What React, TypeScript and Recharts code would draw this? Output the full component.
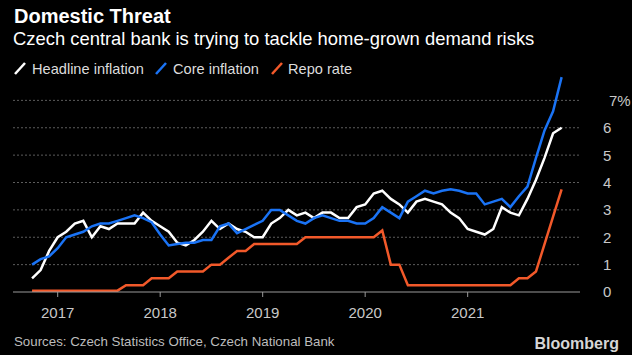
import { CartesianGrid, Line, LineChart, XAxis, YAxis } from "recharts";

// month-end observations, Sep 2016 .. Nov 2021
const startYear = 2016;
const startMonth = 9;

const headline = [
  0.5, 0.8, 1.5, 2.0,
  2.2, 2.5, 2.6, 2.0, 2.4, 2.3, 2.5, 2.5, 2.5, 2.9, 2.6, 2.4,
  2.2, 1.8, 1.7, 1.9, 2.2, 2.6, 2.3, 2.5, 2.3, 2.2, 2.0, 2.0,
  2.5, 2.7, 3.0, 2.8, 2.9, 2.7, 2.9, 2.9, 2.7, 2.7, 3.1, 3.2,
  3.6, 3.7, 3.4, 3.2, 2.9, 3.3, 3.4, 3.3, 3.2, 2.9, 2.7, 2.3,
  2.2, 2.1, 2.3, 3.1, 2.9, 2.8, 3.4, 4.1, 4.9, 5.8, 6.0,
];

const core = [
  1.0, 1.2, 1.3, 1.6,
  2.0, 2.1, 2.2, 2.4, 2.5, 2.5, 2.6, 2.7, 2.8, 2.7, 2.55, 2.1,
  1.7, 1.75, 1.8, 1.8, 1.9, 1.9, 2.4, 2.5, 2.15, 2.3, 2.45, 2.6,
  3.0, 3.0, 2.8, 2.6, 2.5, 2.7, 2.8, 2.7, 2.6, 2.6, 2.5, 2.5,
  2.7, 3.1, 2.9, 2.7, 3.3, 3.5, 3.7, 3.6, 3.7, 3.75, 3.7, 3.6,
  3.6, 3.2, 3.3, 3.4, 3.1, 3.5, 3.85, 4.9, 5.9, 6.6, 7.85,
];

const repo = [
  0.05, 0.05, 0.05, 0.05,
  0.05, 0.05, 0.05, 0.05, 0.05, 0.05, 0.05, 0.25, 0.25, 0.25, 0.5, 0.5,
  0.5, 0.75, 0.75, 0.75, 0.75, 1.0, 1.0, 1.25, 1.5, 1.5, 1.75, 1.75,
  1.75, 1.75, 1.75, 1.75, 2.0, 2.0, 2.0, 2.0, 2.0, 2.0, 2.0, 2.0,
  2.0, 2.25, 1.0, 1.0, 0.25, 0.25, 0.25, 0.25, 0.25, 0.25, 0.25, 0.25,
  0.25, 0.25, 0.25, 0.25, 0.25, 0.5, 0.5, 0.75, 1.75, 2.75, 3.75,
];

const yearTicks = [2017, 2018, 2019, 2020, 2021];
const valueTicks = [0, 1, 2, 3, 4, 5, 6, 7];

const WHITE = "#ffffff";
const BLUE = "#1a73f5";
const ORANGE = "#f2592a";
const FONT = "'Liberation Sans', Arial, sans-serif";

const rows = headline.map((h, i) => ({
  t: startYear + (startMonth + i) / 12,
  headline: h,
  core: core[i],
  repo: repo[i],
}));

function ValueTick(props: any) {
  const { x, y, payload } = props;
  const top = payload.value === 7;
  return (
    <text x={top ? x + 21 : x + 15} y={y} dy="0.36em" fill="#c8c8c8" fontSize={15} fontFamily={FONT}>
      {payload.value}
      {top ? "%" : ""}
    </text>
  );
}

export default function App() {
  return (
    <div style={{ position: "fixed", left: 0, top: 0, width: 632, height: 355, background: "#000" }}>
      <LineChart width={632} height={355} data={rows} margin={{ top: 73, right: 0, bottom: 33, left: 13 }}>
        <CartesianGrid stroke="#5c5c5c" strokeDasharray="2 2" vertical={false} horizontalValues={[1, 2, 3, 4, 5, 6, 7]} />
        <XAxis
          dataKey="t"
          type="number"
          domain={[2016.564, 2022.096]}
          ticks={yearTicks}
          allowDataOverflow
          stroke="#9a9a9a"
          tickSize={5}
          tickMargin={10}
          height={30}
          tick={{ fill: "#c8c8c8", fontSize: 15, fontFamily: FONT }}
        />
        <YAxis
          orientation="right"
          domain={[0, 8]}
          ticks={valueTicks}
          width={52}
          axisLine={false}
          tickLine={false}
          tick={<ValueTick />}
        />
        <Line dataKey="repo" stroke={ORANGE} strokeWidth={2.5} dot={false} isAnimationActive={false} />
        <Line dataKey="headline" stroke={WHITE} strokeWidth={2.5} dot={false} isAnimationActive={false} />
        <Line dataKey="core" stroke={BLUE} strokeWidth={2.5} dot={false} isAnimationActive={false} />
      </LineChart>
      <svg width={632} height={355} style={{ position: "absolute", left: 0, top: 0, pointerEvents: "none" }}>
        <text x={14} y={23} fill="#fff" fontSize={20} fontWeight="bold" fontFamily={FONT}>
          Domestic Threat
        </text>
        <text x={13} y={45} fill="#fff" fontSize={18.4} fontFamily={FONT}>
          Czech central bank is trying to tackle home-grown demand risks
        </text>
        <line x1={15} y1={74} x2={25} y2={63} stroke={WHITE} strokeWidth={2.5} />
        <text x={32} y={74} fill="#dcdcdc" fontSize={14.6} fontFamily={FONT}>Headline inflation</text>
        <line x1={156} y1={74} x2={166} y2={63} stroke={BLUE} strokeWidth={2.5} />
        <text x={173} y={74} fill="#dcdcdc" fontSize={14.6} fontFamily={FONT}>Core inflation</text>
        <line x1={272} y1={74} x2={282} y2={63} stroke={ORANGE} strokeWidth={2.5} />
        <text x={288} y={74} fill="#dcdcdc" fontSize={14.6} fontFamily={FONT}>Repo rate</text>
        <text x={14} y={346} fill="#bdbdbd" fontSize={13.3} fontFamily={FONT}>
          Sources: Czech Statistics Office, Czech National Bank
        </text>
        <text x={619} y={349} textAnchor="end" fill="#d6d6d6" fontSize={16} fontWeight="bold" fontFamily={FONT}>
          Bloomberg
        </text>
      </svg>
    </div>
  );
}
